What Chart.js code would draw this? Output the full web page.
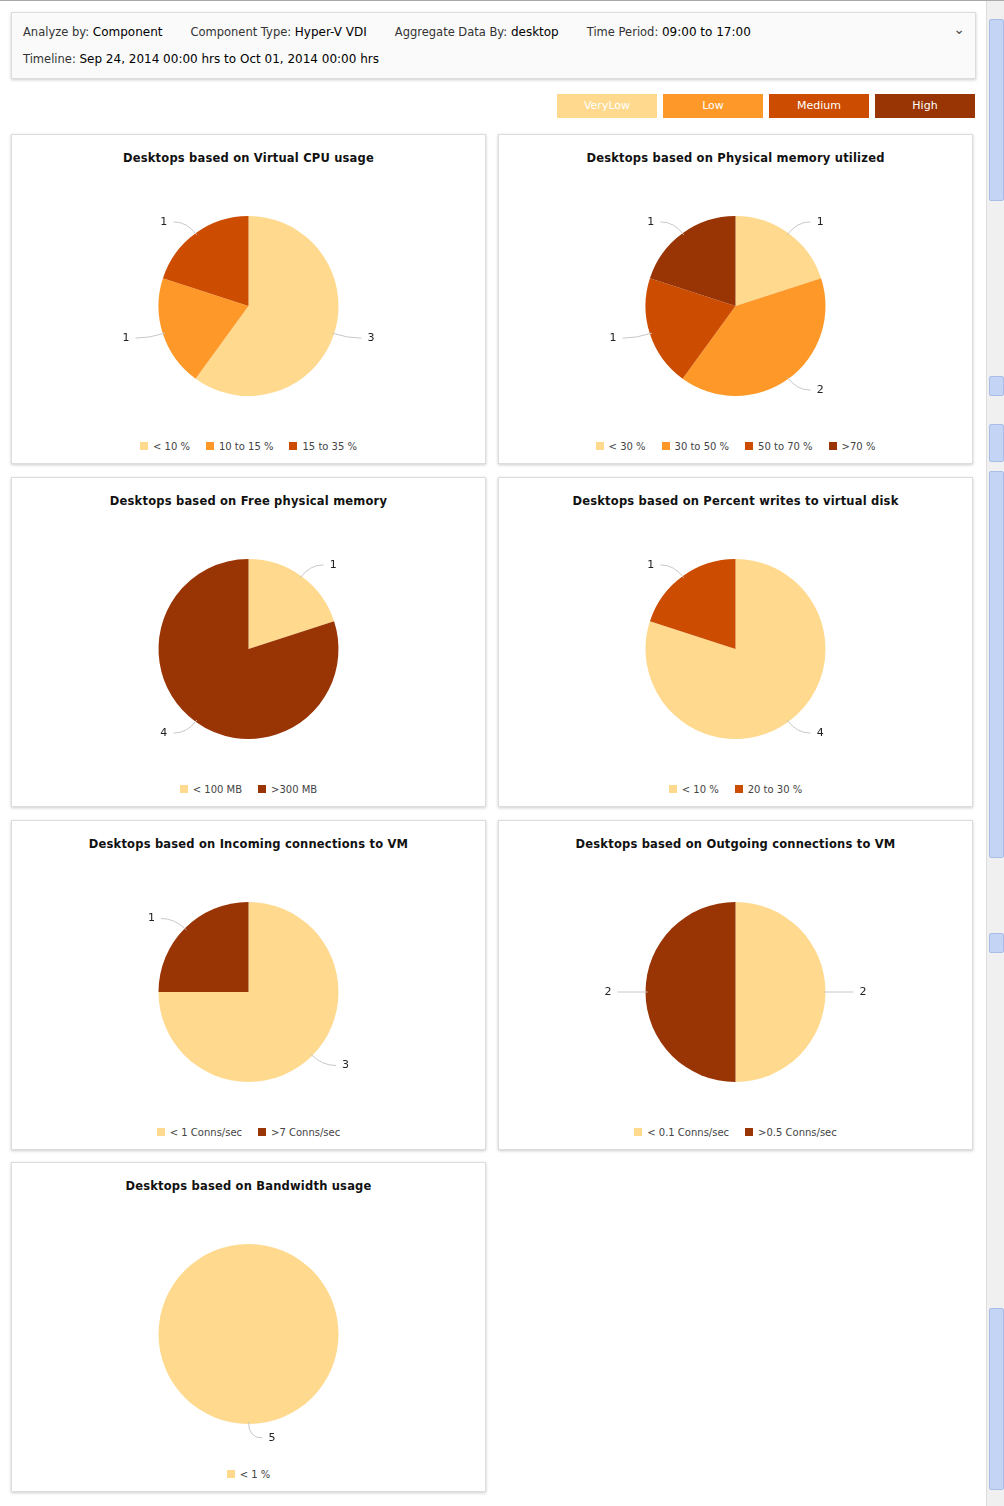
<!DOCTYPE html>
<html><head><meta charset="utf-8">
<script src="https://cdn.jsdelivr.net/npm/chart.js@4/dist/chart.umd.min.js"></script>
<style>
body{margin:0;width:1004px;height:1506px;background:#fff;font-family:"DejaVu Sans",sans-serif;position:relative;overflow:hidden;border-top:1px solid #aaa;box-sizing:border-box}
#hdr{position:absolute;left:11px;top:11px;width:963px;height:65px;background:#fafafa;border:1px solid #ddd;box-shadow:0 1px 3px #ccc;font-size:11.5px;color:#333}
#hdr b{font-weight:normal;color:#000;font-size:12px}
.row{position:absolute;left:11px;white-space:nowrap}
.row span{margin-right:28px}
#lvl{position:absolute;top:93px;left:557px}
#lvl div{position:absolute;top:0;width:100px;height:24px;line-height:24px;text-align:center;color:#fff;font-size:11px}
.panel{position:absolute;width:473px;height:328px;border:1px solid #ddd;box-shadow:0 1px 3px #ccc;background:#fff}
.panel h3{margin:0;position:absolute;top:16px;left:0;width:100%;text-align:center;font-size:11.5px;font-weight:bold;color:#111;letter-spacing:0.2px}
.panel canvas{position:absolute;left:0;top:46px}
.leg{position:absolute;top:306px;left:0;width:100%;text-align:center;font-size:10px;color:#444}
.leg span{margin:0 8px}
.leg i{display:inline-block;width:8px;height:8px;margin-right:5px;vertical-align:-0px}
#sb{position:absolute;left:986px;top:0;width:18px;height:1506px;background:#f0f0f0;border-left:1px solid #ddd}
#sb .th{position:absolute;left:2px;width:13px;background:#c4d4f5;border:1px solid #a9bde8;border-radius:2px}
</style></head><body>
<div id="hdr">
<div class="row" style="top:12px"><span>Analyze by: <b>Component</b></span><span>Component Type: <b>Hyper-V VDI</b></span><span>Aggregate Data By: <b>desktop</b></span><span>Time Period: <b>09:00 to 17:00</b></span></div>
<div class="row" style="top:39px">Timeline: <b>Sep 24, 2014 00:00 hrs to Oct 01, 2014 00:00 hrs</b></div>
<div style="position:absolute;right:10px;top:8px;font-size:14px;color:#555">&#8964;</div>
</div>
<div id="lvl"></div>
<div id="sb"><div class="th" style="top:18px;height:180px"></div><div class="th" style="top:375px;height:18px"></div><div class="th" style="top:423px;height:36px"></div><div class="th" style="top:470px;height:385px"></div><div class="th" style="top:932px;height:18px"></div><div class="th" style="top:1307px;height:180px"></div></div>
<script>
const levelNames=["VeryLow","Low","Medium","High"];
const levelColors=["#FED98E","#FE9929","#CC4C02","#993404"];
const titles=["Desktops based on Virtual CPU usage","Desktops based on Physical memory utilized","Desktops based on Free physical memory","Desktops based on Percent writes to virtual disk","Desktops based on Incoming connections to VM","Desktops based on Outgoing connections to VM","Desktops based on Bandwidth usage"];
const cats=[["< 10 %","10 to 15 %","15 to 35 %"],["< 30 %","30 to 50 %","50 to 70 %",">70 %"],["< 100 MB",">300 MB"],["< 10 %","20 to 30 %"],["< 1 Conns/sec",">7 Conns/sec"],["< 0.1 Conns/sec",">0.5 Conns/sec"],["< 1 %"]];
const vals=[[3,1,1],[1,2,1,1],[1,4],[4,1],[3,1],[2,2],[5]];
const levels=[[0,1,2],[0,1,2,3],[0,3],[0,2],[0,3],[0,3],[0]];
const lv=document.getElementById('lvl');
levelNames.forEach((n,i)=>{const d=document.createElement('div');d.style.left=(i*106)+'px';d.style.background=levelColors[i];d.textContent=n;lv.appendChild(d);});
const labelPlugin={id:'lbl',afterDatasetsDraw(ch){const c=ch.ctx;const meta=ch.getDatasetMeta(0);c.save();c.font='11px "DejaVu Sans"';c.textBaseline='middle';
meta.data.forEach((a,i)=>{const v=ch.data.datasets[0].data[i];const m=(a.startAngle+a.endAngle)/2;const r=a.outerRadius;const cx=a.x,cy=a.y;const cos=Math.cos(m),sin=Math.sin(m);
const x1=cx+cos*(r-2),y1=cy+sin*(r-2),x2=cx+cos*(r+14),y2=cy+sin*(r+14);const dir=cos>=0?1:-1;const x3=x2+dir*14;
c.strokeStyle='#c8c8c8';c.lineWidth=1;c.beginPath();c.moveTo(x1,y1);c.quadraticCurveTo(x2,y2,x3,y2);c.stroke();
c.fillStyle='#222';c.textAlign=dir>0?'left':'right';c.fillText(String(v),x3+dir*6,y2);});c.restore();}};
const pos=[[11,133],[498,133],[11,476],[498,476],[11,819],[498,819],[11,1161]];
titles.forEach((t,k)=>{const p=document.createElement('div');p.className='panel';p.style.left=pos[k][0]+'px';p.style.top=pos[k][1]+'px';
p.innerHTML='<h3>'+t+'</h3><canvas width="473" height="250" style="width:473px;height:250px"></canvas><div class="leg">'+cats[k].map((c,i)=>'<span><i style="background:'+levelColors[levels[k][i]]+'"></i>'+c+'</span>').join('')+'</div>';
document.body.appendChild(p);
new Chart(p.querySelector('canvas'),{type:'pie',data:{labels:cats[k],datasets:[{data:vals[k],backgroundColor:levels[k].map(l=>levelColors[l]),borderWidth:0,radius:90}]},
options:{responsive:false,animation:false,layout:{padding:{left:-1}},plugins:{legend:{display:false},tooltip:{enabled:false}}},plugins:[labelPlugin]});});
</script></body></html>
